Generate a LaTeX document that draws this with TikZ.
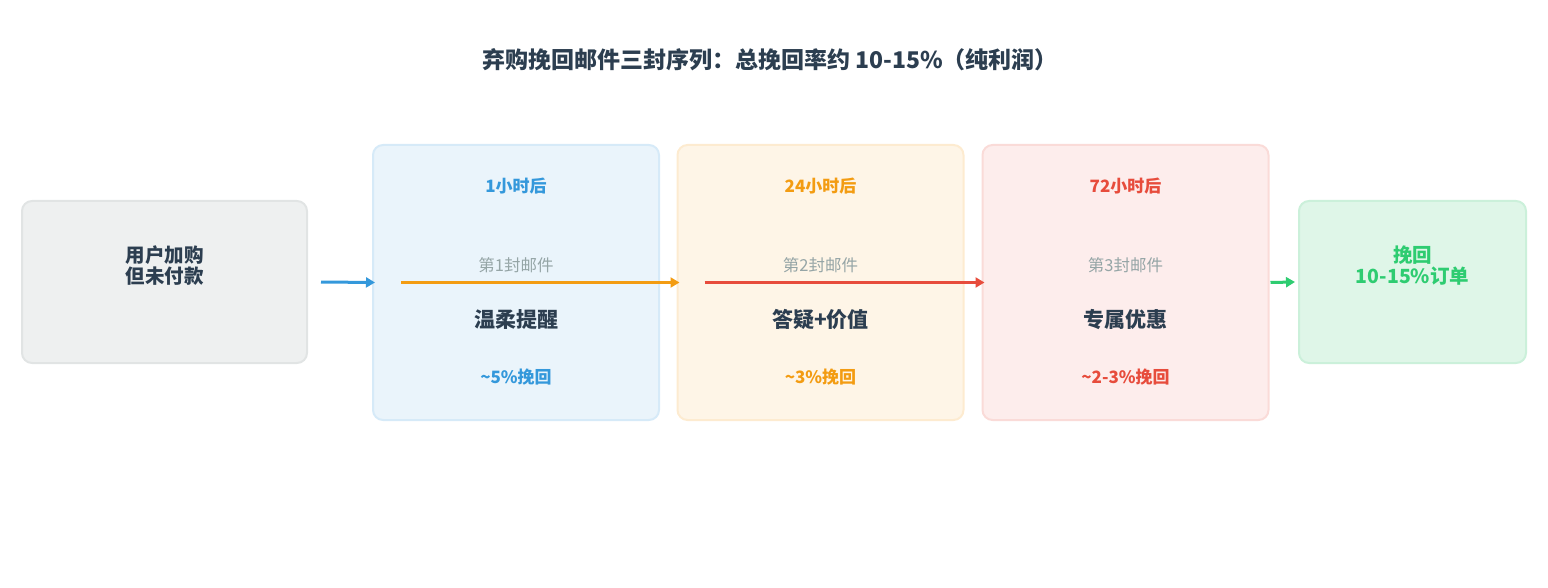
\documentclass[tikz,border=0pt]{standalone}
\usepackage{fontspec}
\setmainfont{Noto Sans CJK SC}
\usetikzlibrary{arrows.meta}
\definecolor{ink}{HTML}{2C3E50}
\definecolor{mute}{HTML}{95A5A6}
\definecolor{blue}{HTML}{3498DB}
\definecolor{orange}{HTML}{F39C12}
\definecolor{red}{HTML}{E74C3C}
\definecolor{green}{HTML}{2ECC71}
\definecolor{bluefill}{HTML}{EAF4FB}
\definecolor{blueedge}{HTML}{D6EAF8}
\definecolor{orangefill}{HTML}{FEF5E7}
\definecolor{orangeedge}{HTML}{FDEBD0}
\definecolor{redfill}{HTML}{FDEDEC}
\definecolor{rededge}{HTML}{FADBD8}
\definecolor{greenfill}{HTML}{DFF6E8}
\definecolor{greenedge}{HTML}{CBF0DA}
\definecolor{greyfill}{HTML}{EEF0F0}
\definecolor{greyedge}{HTML}{E1E4E4}

\begin{document}
\begin{tikzpicture}[x=1pt, y=-1pt,
        card/.style={line width=2pt, rounded corners=10pt},
        flow/.style={line width=3pt, -{Triangle[length=9pt, width=10pt]}},
        big/.style={font=\bfseries\fontsize{19.5}{21}\selectfont, align=center}]

    \useasboundingbox (0,0) rectangle (1548,588);

    % title
    \node[font=\bfseries\fontsize{23}{27}\selectfont, text=ink] (title) at (770,60)
        {弃购挽回邮件三封序列：总挽回率约 10-15\%（纯利润）};

    % start and end
    \node[card, draw=greyedge, fill=greyfill, minimum width=285pt, minimum height=162pt] (cart) at (164.5,282) {};
    \node[big, text=ink] (cartlabel) at (164.5,265.5) {用户加购\\但未付款};

    \node[card, draw=greenedge, fill=greenfill, minimum width=227pt, minimum height=162pt] (won) at (1412.5,282) {};
    \node[big, text=green] (wonlabel) at (1412.5,265.5) {挽回\\10-15\%订单};

    % the three mails
    \foreach \c / \x / \hrs / \task / \rate [count=\n] in {
                    blue/516/1/温柔提醒/5,
                    orange/820.5/24/答疑+价值/3,
                    red/1125.5/72/专属优惠/2-3} {
        \node[card, draw=\c edge, fill=\c fill, minimum width=286pt, minimum height=275pt] (mail\n) at (\x,282.5) {};
        \node[font=\bfseries\fontsize{17}{19}\selectfont, text=\c] (hrs\n) at (\x,186) {\hrs 小时后};
        \node[font=\fontsize{16.5}{18}\selectfont, text=mute] (num\n) at (\x,265) {第\n 封邮件};
        \node[font=\bfseries\fontsize{21}{23}\selectfont, text=ink] (task\n) at (\x,320) {\task};
        \node[font=\bfseries\fontsize{17}{19}\selectfont, text=\c] (rate\n) at (\x,377) {\textasciitilde\rate\%挽回};
    }

    % connectors
    \draw[flow, blue] ([xshift=13pt]cart.east) -- ([xshift=3pt]mail1.west);
    \draw[flow, orange] ([xshift=29pt]mail1.west) -- ([xshift=3pt]mail2.west);
    \draw[flow, red] ([xshift=28pt]mail2.west) -- ([xshift=3pt]mail3.west);
    \draw[flow, green] ([xshift=1pt]mail3.east) -- ([xshift=-3pt]won.west);
\end{tikzpicture}
\end{document}
